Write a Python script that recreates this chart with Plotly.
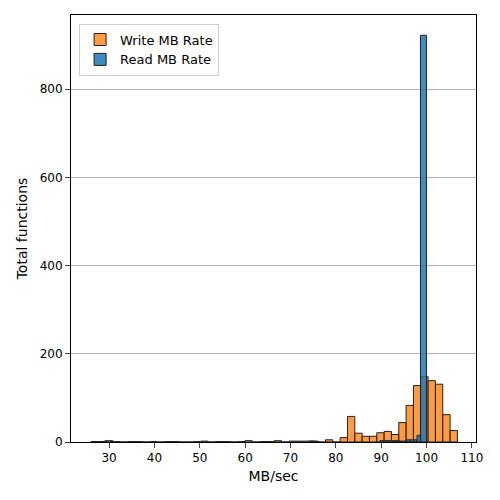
import plotly.graph_objects as go

# Write MB Rate histogram: 50 bins from 26.0 to 106.8
write_start = 26.0
write_width = 1.616
write_counts = [1, 1, 3, 1, 0, 1, 1, 0, 1, 0,
                1, 1, 0, 0, 1, 2, 0, 1, 1, 0,
                1, 3, 0, 1, 1, 3, 0, 2, 2, 2,
                2, 0, 5, 0, 10, 58, 20, 13, 13, 21,
                24, 17, 44, 83, 128, 148, 139, 131, 62, 26]

# Read MB Rate histogram: bin left edges and counts
read_width = 0.74
read_left = [26.5, 27.3, 28.8, 30.2, 74.0, 74.7, 75.5, 89.7, 90.5, 91.2, 91.9,
             92.7, 93.4, 94.2, 94.9, 95.6, 96.4, 97.1, 97.9, 98.66]
read_counts = [1, 1, 2, 1, 2, 2, 1, 3, 3, 3, 3,
               3, 3, 2, 2, 5, 5, 5, 15, 922]

write_x = [write_start + write_width * (i + 0.5) for i in range(len(write_counts))]
read_x = [l + read_width / 2 for l in read_left]
read_w = [read_width] * len(read_left)
read_w[-1] = 1.32
read_x[-1] = read_left[-1] + 0.66

fig = go.Figure()
fig.add_trace(go.Bar(x=write_x, y=write_counts, width=write_width, name="Write MB Rate",
                     marker=dict(color="rgba(255,127,14,0.78)", line=dict(color="#222", width=1))))
fig.add_trace(go.Bar(x=read_x, y=read_counts, width=read_w, name="Read MB Rate",
                     marker=dict(color="rgba(31,119,180,0.85)", line=dict(color="#222", width=1))))
fig.update_layout(
    width=500, height=500, barmode="overlay", plot_bgcolor="white", paper_bgcolor="white",
    margin=dict(l=63, r=32, t=7, b=66),
    font=dict(family="DejaVu Sans", size=12, color="black"),
    legend=dict(x=0.02, y=0.98, xanchor="left", yanchor="top", bordercolor="#ccc", borderwidth=1,
                bgcolor="rgba(255,255,255,0.8)", font=dict(size=13)),
    xaxis=dict(title=dict(text="MB/sec", standoff=6), range=[21.6, 110.9], tickvals=[30,40,50,60,70,80,90,100,110],
               showgrid=False, showline=True, linecolor="black", mirror=True, ticks="outside", zeroline=False),
    yaxis=dict(title=dict(text="Total functions", standoff=8), range=[0, 968], tickvals=[0,200,400,600,800],
               showgrid=True, gridcolor="#b0b0b0", showline=True, linecolor="black", mirror=True,
               ticks="outside", zeroline=False),
)
fig.write_html("out.html")
